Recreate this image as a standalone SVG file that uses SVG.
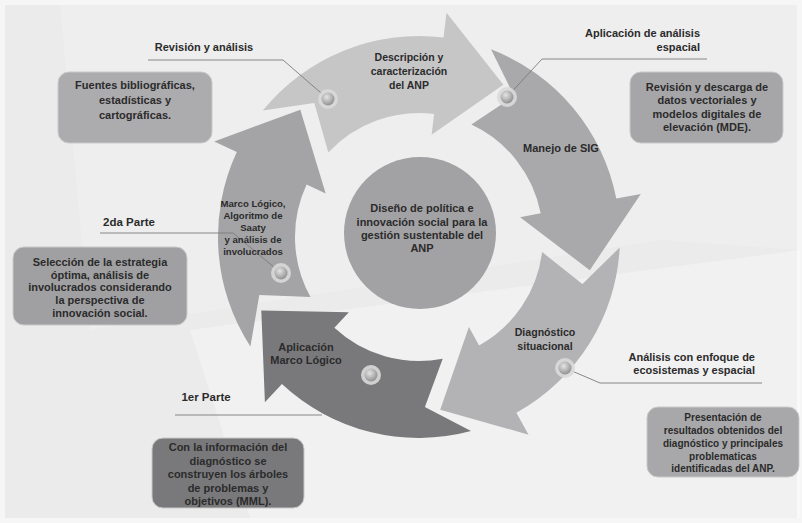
<svg xmlns="http://www.w3.org/2000/svg" width="802" height="523" viewBox="0 0 802 523">
<defs>
<style>
.t{font-family:"Liberation Sans",Arial,sans-serif;font-weight:bold;font-size:11px;fill:#2b2b2b;text-anchor:middle}
.s{font-size:10px}
.m{font-size:9.6px}
.p{font-size:11.5px}
.r{text-anchor:end}
.lead{fill:none;stroke:#7c7c7c;stroke-width:0.9}
.box{stroke:#c9c9c9;stroke-width:1}
</style>
<radialGradient id="dotg" cx="0.4" cy="0.35" r="0.7">
<stop offset="0" stop-color="#e4e4e4"/>
<stop offset="1" stop-color="#8c8c8c"/>
</radialGradient>
<g id="dot">
<circle r="10" fill="#d9d9d9" opacity="0.9"/>
<circle r="6.5" fill="url(#dotg)"/>
</g>
</defs>

<rect x="0" y="0" width="802" height="523" fill="#f6f6f6"/>
<rect x="5" y="5" width="792" height="513" fill="#ebebeb"/>
<polygon points="60,5 640,5 660,240 90,330" fill="#ffffff" opacity="0.18"/>
<polygon points="190,330 800,250 800,518 250,518" fill="#ffffff" opacity="0.3"/>
<polygon points="640,5 797,5 797,250 660,240" fill="#ffffff" opacity="0.15"/>

<g id="arrows">
<path id="arrow-top" d="M262.8,110.5 A201,201 0 0 1 443.5,37.5 L446.5,12.7 L503.4,84.8 L431.6,134.8 L434.1,113.9 A124,124 0 0 0 328.3,152.4 L314.3,103 Z" fill="#c6c6c7"/>
<path id="arrow-right" d="M491,49.3 A201,201 0 0 1 616.3,198.6 L640.8,193.9 L589.8,270.2 L520.1,217.3 L540.7,213.3 A124,124 0 0 0 471.4,124.6 L514.1,96.1 Z" fill="#a9a9ab"/>
<path id="arrow-lowright" d="M619.7,247.5 A201,201 0 0 1 516.4,412.8 L528.6,434.7 L440.2,409.7 L468.9,327.1 L479.1,345.5 A124,124 0 0 0 542.1,252.1 L582.4,283.9 Z" fill="#b3b3b5"/>
<path id="arrow-bottom" d="M471,431.1 A201,201 0 0 1 281.9,384 L264.9,402.3 L261.3,310.5 L348.8,312.3 L334.4,327.7 A124,124 0 0 0 442.7,358.7 L424.9,406.9 Z" fill="#79797b"/>
<path id="arrow-left" d="M250.4,346.5 A201,201 0 0 1 236.8,152.1 L214.2,141.5 L300.3,109.7 L325.7,193.5 L306.6,184.6 A124,124 0 0 0 310.5,297.1 L259.3,295.1 Z" fill="#a4a4a6"/>
</g>

<g id="center">
<circle cx="420" cy="233" r="76" fill="#a2a2a4"/>
<text class="t"><tspan x="422" y="212">Diseño de política e</tspan><tspan x="422" y="226">innovación social para la</tspan><tspan x="422" y="239">gestión sustentable del</tspan><tspan x="422" y="252">ANP</tspan></text>
</g>

<g id="connectors">
<polyline class="lead" points="148,60 283,60 328,99"/>
<polyline class="lead" points="507,97 542,59 707,59"/>
<polyline class="lead" points="100,233 233,233 281,273"/>
<polyline class="lead" points="175,415 322,415"/>
<polyline class="lead" points="565,368 600,383 762,383"/>
</g>

<g id="dots">
<use href="#dot" x="328" y="99"/>
<use href="#dot" x="507" y="97"/>
<use href="#dot" x="281" y="273"/>
<use href="#dot" x="371" y="375"/>
<use href="#dot" x="565" y="368"/>
</g>

<g id="n-descripcion">
<text class="t" style="font-size:10.5px"><tspan x="409" y="61">Descripción y</tspan><tspan x="409" y="75">caracterización</tspan><tspan x="409" y="89">del ANP</tspan></text>
</g>
<g id="n-sig">
<text class="t" x="561" y="152">Manejo de SIG</text>
</g>
<g id="n-diagnostico">
<text class="t" style="font-size:10.6px"><tspan x="545" y="336">Diagnóstico</tspan><tspan x="545" y="350">situacional</tspan></text>
</g>
<g id="n-aplicacion-ml">
<text class="t"><tspan x="306" y="351">Aplicación</tspan><tspan x="306" y="364">Marco Lógico</tspan></text>
</g>
<g id="n-marco">
<text class="t m"><tspan x="253" y="207">Marco Lógico,</tspan><tspan x="253" y="219">Algoritmo de</tspan><tspan x="253" y="231">Saaty</tspan><tspan x="253" y="243">y análisis de</tspan><tspan x="253" y="255">involucrados</tspan></text>
</g>

<g id="l-revision">
<text class="t" x="204" y="51">Revisión y análisis</text>
</g>
<g id="l-aplicacion">
<text class="t r"><tspan x="700" y="37">Aplicación de análisis</tspan><tspan x="700" y="51">espacial</tspan></text>
</g>
<g id="l-2da">
<text class="t p" x="129" y="226">2da Parte</text>
</g>
<g id="l-1er">
<text class="t p" x="206" y="401">1er Parte</text>
</g>
<g id="l-analisis">
<text class="t r"><tspan x="755" y="361">Análisis con enfoque de</tspan><tspan x="755" y="374">ecosistemas y espacial</tspan></text>
</g>

<g id="b-fuentes">
<rect class="box" x="58" y="72" width="154" height="71" rx="11" fill="#acacae"/>
<text class="t"><tspan x="135" y="89">Fuentes bibliográficas,</tspan><tspan x="135" y="104">estadísticas y</tspan><tspan x="135" y="119">cartográficas.</tspan></text>
</g>
<g id="b-revision">
<rect class="box" x="630" y="72" width="153" height="71" rx="11" fill="#a6a6a8"/>
<text class="t"><tspan x="707" y="91">Revisión y descarga de</tspan><tspan x="707" y="104">datos vectoriales y</tspan><tspan x="707" y="118">modelos digitales de</tspan><tspan x="707" y="131">elevación (MDE).</tspan></text>
</g>
<g id="b-seleccion">
<rect class="box" x="13" y="247" width="174" height="78" rx="11" fill="#a0a0a2"/>
<text class="t"><tspan x="100" y="266">Selección de la estrategia</tspan><tspan x="100" y="279">óptima, análisis de</tspan><tspan x="100" y="291">involucrados considerando</tspan><tspan x="100" y="304">la perspectiva de</tspan><tspan x="100" y="317">innovación social.</tspan></text>
</g>
<g id="b-informacion">
<rect class="box" x="152" y="438" width="152" height="70" rx="11" fill="#79797b"/>
<text class="t"><tspan x="228" y="451">Con la información del</tspan><tspan x="228" y="465">diagnóstico se</tspan><tspan x="228" y="478">construyen los árboles</tspan><tspan x="228" y="492">de problemas y</tspan><tspan x="228" y="505">objetivos (MML).</tspan></text>
</g>
<g id="b-presentacion">
<rect class="box" x="647" y="407" width="152" height="70" rx="11" fill="#a8a8aa"/>
<text class="t s"><tspan x="723" y="421">Presentación de</tspan><tspan x="723" y="434">resultados obtenidos del</tspan><tspan x="723" y="447">diagnóstico  y principales</tspan><tspan x="723" y="460">problematicas</tspan><tspan x="723" y="472">identificadas del ANP.</tspan></text>
</g>
</svg>
